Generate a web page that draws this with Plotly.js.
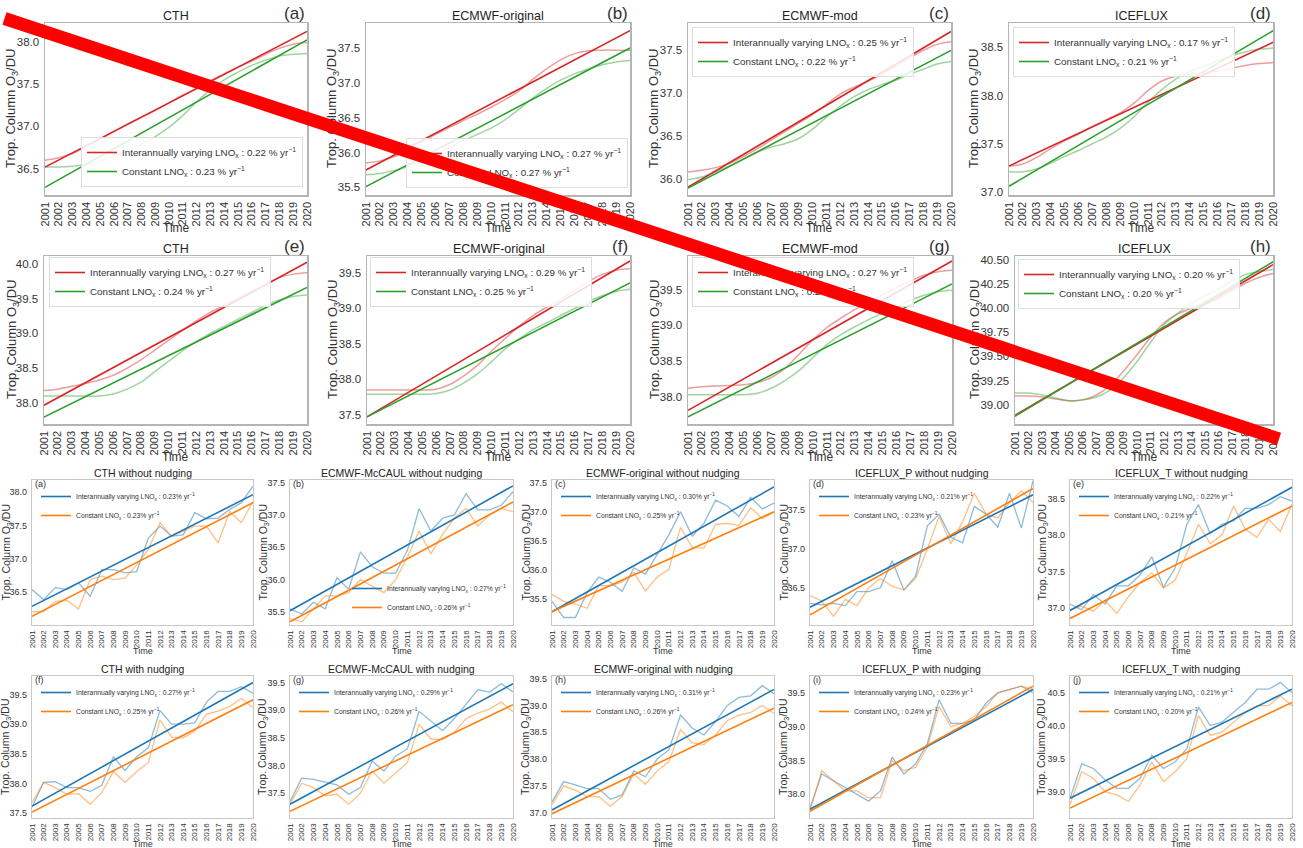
<!DOCTYPE html>
<html>
<head>
<meta charset="utf-8">
<script src="https://cdn.plot.ly/plotly-3.0.1.min.js"></script>
<style>
  html, body { margin: 0; padding: 0; background: #ffffff; }
  #fig { width: 1303px; height: 848px; }
</style>
</head>
<body>
<div id="fig"></div>
<script>
// ---------- shared axes ----------
const years = [2001, 2002, 2003, 2004, 2005, 2006, 2007, 2008, 2009, 2010,
               2011, 2012, 2013, 2014, 2015, 2016, 2017, 2018, 2019, 2020];
const trendYears = [2001, 2020];

// ---------- top block: smoothed series and linear trends ----------
// (a) CTH
const aIvSmooth = [36.60,36.63,36.68,36.76,36.85,36.94,37.03,37.11,37.19,37.28,37.37,37.45,37.54,37.62,37.70,37.77,37.85,37.92,37.97,37.99];
const aIvTrend  = [36.52, 38.12];
const aCnSmooth = [36.52,36.52,36.53,36.55,36.59,36.65,36.72,36.79,36.88,36.99,37.13,37.29,37.43,37.55,37.64,37.72,37.78,37.83,37.85,37.86];
const aCnTrend  = [36.28, 38.02];
// (b) ECMWF-original
const bIvSmooth = [35.85,35.88,35.94,36.04,36.15,36.26,36.36,36.46,36.55,36.65,36.76,36.88,37.05,37.20,37.33,37.42,37.46,37.47,37.47,37.47];
const bIvTrend  = [35.75, 37.75];
const bCnSmooth = [35.68,35.70,35.74,35.80,35.88,35.97,36.07,36.17,36.26,36.35,36.47,36.62,36.78,36.92,37.04,37.13,37.20,37.26,37.30,37.32];
const bCnTrend  = [35.51, 37.50];
// (c) ECMWF-mod
const cIvSmooth = [36.08,36.10,36.13,36.18,36.26,36.35,36.45,36.55,36.65,36.75,36.87,36.99,37.07,37.14,37.22,37.31,37.41,37.50,37.57,37.60];
const cIvTrend  = [35.90, 37.72];
const cCnSmooth = [35.99,36.02,36.08,36.15,36.23,36.31,36.37,36.41,36.47,36.58,36.72,36.85,36.96,37.04,37.10,37.15,37.22,37.28,37.34,37.37];
const cCnTrend  = [35.89, 37.50];
// (d) ICEFLUX
const dIvSmooth = [37.27,37.29,37.36,37.45,37.53,37.60,37.68,37.75,37.82,37.92,38.05,38.15,38.20,38.22,38.23,38.25,38.28,38.31,38.33,38.34];
const dIvTrend  = [37.27, 38.55];
const dCnSmooth = [37.21,37.21,37.24,37.30,37.37,37.43,37.50,37.57,37.66,37.78,37.93,38.06,38.17,38.25,38.30,38.36,38.41,38.45,38.48,38.49];
const dCnTrend  = [37.06, 38.67];
// (e) CTH
const eIvSmooth = [38.18,38.20,38.24,38.28,38.33,38.40,38.50,38.62,38.76,38.90,39.04,39.18,39.30,39.40,39.50,39.60,39.70,39.80,39.85,39.87];
const eIvTrend  = [37.97, 40.02];
const eCnSmooth = [38.10,38.10,38.10,38.10,38.10,38.13,38.20,38.30,38.45,38.60,38.75,38.88,39.00,39.10,39.20,39.30,39.40,39.48,39.53,39.55];
const eCnTrend  = [37.80, 39.66];
// (f) ECMWF-original
const fIvSmooth = [37.85,37.85,37.85,37.85,37.85,37.86,37.93,38.05,38.20,38.40,38.58,38.75,38.90,39.02,39.13,39.25,39.38,39.48,39.54,39.56];
const fIvTrend  = [37.47, 39.67];
const fCnSmooth = [37.79,37.79,37.79,37.79,37.79,37.80,37.85,37.95,38.08,38.25,38.43,38.57,38.70,38.80,38.90,39.00,39.10,39.18,39.24,39.27];
const fCnTrend  = [37.47, 39.36];
// (g) ECMWF-mod
const gIvSmooth = [38.12,38.14,38.15,38.16,38.17,38.20,38.27,38.40,38.60,38.80,38.97,39.10,39.22,39.32,39.43,39.53,39.62,39.70,39.75,39.77];
const gIvTrend  = [37.81, 39.90];
const gCnSmooth = [38.03,38.03,38.03,38.03,38.03,38.05,38.12,38.23,38.37,38.55,38.73,38.87,38.98,39.08,39.17,39.26,39.35,39.42,39.47,39.49];
const gCnTrend  = [37.72, 39.58];
// (h) ICEFLUX
const hIvSmooth = [39.09,39.09,39.08,39.06,39.04,39.05,39.10,39.20,39.35,39.52,39.70,39.85,39.94,40.00,40.05,40.10,40.18,40.26,40.32,40.36];
const hIvTrend  = [38.89, 40.45];
const hCnSmooth = [39.12,39.12,39.10,39.07,39.04,39.05,39.08,39.15,39.28,39.45,39.65,39.83,39.95,40.05,40.13,40.20,40.28,40.35,40.38,40.40];
const hCnTrend  = [38.88, 40.48];

const topTitles  = ['CTH', 'ECMWF-original', 'ECMWF-mod', 'ICEFLUX', 'CTH', 'ECMWF-original', 'ECMWF-mod', 'ICEFLUX'];
const topLetters = ['(a)', '(b)', '(c)', '(d)', '(e)', '(f)', '(g)', '(h)'];
const topIvRate  = ['0.22', '0.27', '0.25', '0.17', '0.27', '0.29', '0.27', '0.20'];
const topCnRate  = ['0.23', '0.27', '0.22', '0.21', '0.24', '0.25', '0.24', '0.20'];

// ---------- bottom block: annual means and linear trends ----------
// without nudging
const nnCthIv = [36.54,36.39,36.57,36.54,36.64,36.44,36.84,36.84,36.79,36.81,37.31,37.49,37.34,37.36,37.69,37.60,37.61,37.74,37.84,38.09];
const nnCthIvTrend = [36.29, 37.96];
const nnCthCn = [36.21,36.21,36.36,36.38,36.25,36.69,36.74,36.69,36.71,36.91,37.14,37.54,37.34,37.41,37.49,37.49,37.24,37.71,37.54,37.86];
const nnCthCnTrend = [36.14, 37.84];

const nnMcIv = [35.55,35.47,35.65,35.55,36.03,35.85,36.43,36.20,36.10,36.10,36.45,37.10,36.75,36.95,37.00,37.33,37.08,37.08,37.15,37.36];
const nnMcIvTrend = [35.52, 37.45];
const nnMcCn = [35.40,35.35,35.55,35.75,35.75,35.80,36.00,35.90,35.80,36.00,36.35,36.75,36.40,36.70,36.95,37.10,36.83,37.00,37.10,37.05];
const nnMcCnTrend = [35.35, 37.20];

const nnOrIv = [35.45,35.17,35.17,35.60,35.87,35.78,35.62,36.03,35.92,36.25,36.60,37.00,36.58,36.80,37.20,37.10,36.92,37.25,37.05,37.15];
const nnOrIvTrend = [35.27, 37.43];
const nnOrCn = [35.57,35.45,35.40,35.33,35.72,35.72,35.78,35.95,35.63,35.87,36.00,36.73,36.38,36.37,36.78,36.80,36.76,37.07,36.88,37.00];
const nnOrCnTrend = [35.27, 37.00];

const nnIpIv = [36.30,36.28,36.30,36.27,36.45,36.45,36.50,36.85,36.47,36.65,37.30,37.45,37.15,37.08,37.55,37.45,37.28,37.72,37.27,37.88];
const nnIpIvTrend = [36.25, 37.70];
const nnIpCn = [36.40,36.33,36.13,36.35,36.27,36.50,36.62,36.52,36.47,36.62,37.00,37.42,37.07,37.35,37.72,37.45,37.40,37.60,37.75,37.60];
const nnIpCnTrend = [36.15, 37.78];

const nnItIv = [37.05,36.97,37.18,37.05,37.30,37.30,37.45,37.70,37.28,37.55,38.15,38.42,38.02,38.15,38.20,38.37,38.37,38.42,38.53,38.47];
const nnItIvTrend = [36.96, 38.66];
const nnItCn = [36.97,37.02,36.95,37.10,36.92,37.15,37.35,37.48,37.27,37.38,37.75,38.15,37.88,38.00,38.40,38.08,37.97,38.22,38.05,38.43];
const nnItCnTrend = [36.85, 38.40];

// with nudging
const wnCthIv = [37.60,38.02,38.03,37.93,37.93,37.87,37.97,38.45,38.22,38.45,38.60,39.23,39.00,39.00,39.02,39.37,39.55,39.55,39.63,39.52];
const wnCthIvTrend = [37.62, 39.70];
const wnCthCn = [37.68,38.02,37.93,37.82,37.83,37.65,37.85,38.20,38.02,38.20,38.35,39.07,38.78,38.77,38.88,39.17,39.22,39.30,39.43,39.28];
const wnCthCnTrend = [37.52, 39.41];

const wnMcIv = [37.35,37.77,37.75,37.70,37.65,37.48,37.60,38.08,37.90,38.17,38.30,38.98,38.80,38.63,38.85,39.12,39.37,39.33,39.48,39.33];
const wnMcIvTrend = [37.30, 39.48];
const wnMcCn = [37.30,37.68,37.60,37.45,37.48,37.30,37.50,37.90,37.68,37.87,38.05,38.75,38.48,38.47,38.60,38.85,38.95,39.02,39.15,38.97];
const wnMcCnTrend = [37.17, 39.10];

const wnOrIv = [37.20,37.58,37.52,37.45,37.45,37.25,37.33,37.78,37.67,38.00,38.17,38.82,38.58,38.45,38.70,39.00,39.15,39.18,39.37,39.22];
const wnOrIvTrend = [37.05, 39.30];
const wnOrCn = [37.15,37.50,37.42,37.30,37.30,37.12,37.30,37.72,37.53,37.78,37.95,38.55,38.30,38.27,38.45,38.72,38.82,38.87,39.00,38.85];
const wnOrCnTrend = [36.98, 38.95];

const wnIpIv = [37.80,38.30,38.20,38.10,38.00,37.90,38.05,38.55,38.30,38.45,38.75,39.40,39.05,39.05,39.10,39.35,39.50,39.55,39.60,39.50];
const wnIpIvTrend = [37.78, 39.55];
const wnIpCn = [37.75,38.35,38.20,38.05,38.05,37.95,37.95,38.50,38.35,38.40,38.70,39.30,39.00,39.05,39.15,39.30,39.50,39.55,39.60,39.55];
const wnIpCnTrend = [37.75, 39.60];

const wnItIv = [38.90,39.42,39.35,39.18,39.05,39.05,39.20,39.55,39.35,39.45,39.65,40.28,40.00,40.05,40.20,40.35,40.55,40.55,40.65,40.50];
const wnItIvTrend = [38.90, 40.55];
const wnItCn = [38.80,39.30,39.20,39.00,38.95,38.85,39.10,39.45,39.15,39.30,39.50,40.15,39.85,39.90,40.05,40.20,40.30,40.30,40.45,40.30];
const wnItCnTrend = [38.75, 40.35];

const botTitles = ['CTH without nudging', 'ECMWF-McCAUL without nudging', 'ECMWF-original without nudging',
                   'ICEFLUX_P without nudging', 'ICEFLUX_T without nudging',
                   'CTH with nudging', 'ECMWF-McCAUL with nudging', 'ECMWF-original with nudging',
                   'ICEFLUX_P with nudging', 'ICEFLUX_T with nudging'];
const botLetters = ['(a)', '(b)', '(c)', '(d)', '(e)', '(f)', '(g)', '(h)', '(i)', '(j)'];
const botIvRate  = ['0.23', '0.27', '0.30', '0.21', '0.22', '0.27', '0.29', '0.31', '0.23', '0.21'];
const botCnRate  = ['0.23', '0.26', '0.25', '0.23', '0.21', '0.25', '0.26', '0.26', '0.24', '0.20'];

// ---------- figure geometry (pixels in a 1303 x 848 canvas) ----------
const W = 1303, H = 848;
const FONT = 'Liberation Sans, Arial, sans-serif';

// [left, top, right, bottom], y-range, tick step, tick format
const topGeom = [
  { box: [45, 23, 307, 195],  yr: [36.19, 38.22], dt: 0.5,  fmt: '.1f' },
  { box: [366, 23, 630, 195], yr: [35.39, 37.86], dt: 0.5,  fmt: '.1f' },
  { box: [688, 23, 951, 195], yr: [35.81, 37.82], dt: 0.5,  fmt: '.1f' },
  { box: [1009, 23, 1273, 195], yr: [36.97, 38.75], dt: 0.5, fmt: '.1f' },
  { box: [44, 256, 307, 424],  yr: [37.70, 40.11], dt: 0.5, fmt: '.1f' },
  { box: [367, 256, 630, 424], yr: [37.37, 39.74], dt: 0.5, fmt: '.1f' },
  { box: [688, 256, 952, 424], yr: [37.62, 39.97], dt: 0.5, fmt: '.1f' },
  { box: [1015, 256, 1273, 424], yr: [38.80, 40.54], dt: 0.25, fmt: '.2f' }
];
// legend anchor for each top panel
const topLeg = [
  { x: 303, y: 187, xa: 'right', ya: 'bottom' },
  { x: 628, y: 188, xa: 'right', ya: 'bottom' },
  { x: 692, y: 27,  xa: 'left',  ya: 'top' },
  { x: 1013, y: 27, xa: 'left',  ya: 'top' },
  { x: 49,  y: 257, xa: 'left',  ya: 'top' },
  { x: 370, y: 257, xa: 'left',  ya: 'top' },
  { x: 692, y: 257, xa: 'left',  ya: 'top' },
  { x: 1018, y: 259, xa: 'left', ya: 'top' }
];
const topYTitleX = [12, 333, 655, 975, 12, 333, 655, 975];

const botCols = [[32, 253], [290, 513], [552, 774], [810, 1033], [1070, 1292]];
const botRows = [[480, 625], [676, 818]];
const botRanges = [[36.01, 38.18], [35.30, 37.54], [35.04, 37.55], [36.02, 37.89], [36.76, 38.76],
                   [37.42, 39.81], [37.05, 39.62], [36.90, 39.55], [37.65, 39.75], [38.60, 40.75]];
const botYTitleX = [6, 263, 526, 784, 1042];

// ---------- assemble ----------
const topSeries = [
  [aIvSmooth, aIvTrend, aCnSmooth, aCnTrend],
  [bIvSmooth, bIvTrend, bCnSmooth, bCnTrend],
  [cIvSmooth, cIvTrend, cCnSmooth, cCnTrend],
  [dIvSmooth, dIvTrend, dCnSmooth, dCnTrend],
  [eIvSmooth, eIvTrend, eCnSmooth, eCnTrend],
  [fIvSmooth, fIvTrend, fCnSmooth, fCnTrend],
  [gIvSmooth, gIvTrend, gCnSmooth, gCnTrend],
  [hIvSmooth, hIvTrend, hCnSmooth, hCnTrend]
];
const botSeries = [
  [nnCthIv, nnCthIvTrend, nnCthCn, nnCthCnTrend],
  [nnMcIv, nnMcIvTrend, nnMcCn, nnMcCnTrend],
  [nnOrIv, nnOrIvTrend, nnOrCn, nnOrCnTrend],
  [nnIpIv, nnIpIvTrend, nnIpCn, nnIpCnTrend],
  [nnItIv, nnItIvTrend, nnItCn, nnItCnTrend],
  [wnCthIv, wnCthIvTrend, wnCthCn, wnCthCnTrend],
  [wnMcIv, wnMcIvTrend, wnMcCn, wnMcCnTrend],
  [wnOrIv, wnOrIvTrend, wnOrCn, wnOrCnTrend],
  [wnIpIv, wnIpIvTrend, wnIpCn, wnIpCnTrend],
  [wnItIv, wnItIvTrend, wnItCn, wnItCnTrend]
];

const RED = '#d62728', GREEN = '#2ca02c', BLUE = '#1f77b4', ORANGE = '#ff7f0e';
const traces = [];
const layout = {
  width: W, height: H,
  margin: { l: 0, r: 0, t: 0, b: 0 },
  paper_bgcolor: '#ffffff', plot_bgcolor: '#ffffff',
  font: { family: FONT, color: '#333333' },
  annotations: [], shapes: []
};
const px = x => x / W;
const py = y => 1 - y / H;
const yearText = years.map(String);

function addAxes(n, box, yr, dt, fmt, big) {
  const sfx = n === 1 ? '' : String(n);
  const lineCol = big ? '#b4b4b4' : '#c8c8c8';
  layout['xaxis' + sfx] = {
    domain: [px(box[0]), px(box[2])], anchor: 'y' + sfx,
    range: [2001, 2020], tickmode: 'array', tickvals: years, ticktext: yearText,
    tickangle: -90, ticks: '', showgrid: false, zeroline: false,
    showline: true, mirror: true, linecolor: lineCol, linewidth: big ? 1.5 : 1.2,
    tickfont: { family: FONT, size: big ? 11 : 8, color: '#333333' }, ticklabelstandoff: 1
  };
  layout['yaxis' + sfx] = {
    domain: [py(box[3]), py(box[1])], anchor: 'x' + sfx,
    range: yr, tick0: 0, dtick: dt, tickformat: fmt, ticks: '',
    showgrid: false, zeroline: false,
    showline: true, mirror: true, linecolor: lineCol, linewidth: big ? 1.5 : 1.2,
    tickfont: { family: FONT, size: big ? 11.5 : 9, color: '#333333' }, ticklabelstandoff: 2
  };
}

function legendName(n) { return n === 1 ? 'legend' : 'legend' + n; }

// top 8 panels
topSeries.forEach((s, i) => {
  const n = i + 1, sfx = n === 1 ? '' : String(n);
  const g = topGeom[i];
  addAxes(n, g.box, g.yr, g.dt, g.fmt, true);
  const xa = 'x' + sfx, ya = 'y' + sfx, lg = legendName(n);
  traces.push({ x: years, y: s[0], xaxis: xa, yaxis: ya, mode: 'lines', showlegend: false,
    line: { color: RED, width: 1.5, shape: 'spline', smoothing: 1 }, opacity: 0.45, hoverinfo: 'skip' });
  traces.push({ x: years, y: s[2], xaxis: xa, yaxis: ya, mode: 'lines', showlegend: false,
    line: { color: GREEN, width: 1.5, shape: 'spline', smoothing: 1 }, opacity: 0.45, hoverinfo: 'skip' });
  traces.push({ x: trendYears, y: s[1], xaxis: xa, yaxis: ya, mode: 'lines', legend: lg,
    name: 'Interannually varying LNO<sub>x</sub> : ' + topIvRate[i] + ' % yr<sup>\u22121</sup>',
    line: { color: RED, width: 1.6 } });
  traces.push({ x: trendYears, y: s[3], xaxis: xa, yaxis: ya, mode: 'lines', legend: lg,
    name: 'Constant LNO<sub>x</sub> : ' + topCnRate[i] + ' % yr<sup>\u22121</sup>',
    line: { color: GREEN, width: 1.6 } });
  const L = topLeg[i];
  layout[lg] = {
    x: px(L.x), y: py(L.y), xanchor: L.xa, yanchor: L.ya,
    bgcolor: 'rgba(255,255,255,0.85)', bordercolor: '#dddddd', borderwidth: 1,
    font: { family: FONT, size: 9.8, color: '#333333' }, tracegroupgap: 0
  };
  const b = g.box;
  layout.annotations.push(
    { xref: 'paper', yref: 'paper', x: px((b[0] + b[2]) / 2), y: py(b[1] - 7), text: topTitles[i],
      showarrow: false, font: { family: FONT, size: 12.5, color: '#222222' }, xanchor: 'center', yanchor: 'middle' },
    { xref: 'paper', yref: 'paper', x: px(b[2]), y: py(b[1] - 9), text: topLetters[i],
      showarrow: false, font: { family: FONT, size: 17, color: '#333333' }, xanchor: 'right', yanchor: 'middle' },
    { xref: 'paper', yref: 'paper', x: px((b[0] + b[2]) / 2), y: py(b[3] + 33), text: 'Time',
      showarrow: false, font: { family: FONT, size: 12, color: '#333333' }, xanchor: 'center', yanchor: 'middle' },
    { xref: 'paper', yref: 'paper', x: px(topYTitleX[i]), y: py((b[1] + b[3]) / 2), text: 'Trop. Column O<sub>3</sub>/DU',
      textangle: -90, showarrow: false, font: { family: FONT, size: 13, color: '#333333' }, xanchor: 'center', yanchor: 'middle' }
  );
});

// bottom 10 panels
botSeries.forEach((s, i) => {
  const n = i + 9, sfx = String(n);
  const col = botCols[i % 5], row = botRows[Math.floor(i / 5)];
  const box = [col[0], row[0], col[1], row[1]];
  addAxes(n, box, botRanges[i], 0.5, '.1f', false);
  const xa = 'x' + sfx, ya = 'y' + sfx, lg = legendName(n);
  traces.push({ x: years, y: s[0], xaxis: xa, yaxis: ya, mode: 'lines', showlegend: false,
    line: { color: BLUE, width: 1.3 }, opacity: 0.5, hoverinfo: 'skip' });
  traces.push({ x: years, y: s[2], xaxis: xa, yaxis: ya, mode: 'lines', showlegend: false,
    line: { color: ORANGE, width: 1.3 }, opacity: 0.5, hoverinfo: 'skip' });
  traces.push({ x: trendYears, y: s[1], xaxis: xa, yaxis: ya, mode: 'lines', legend: lg,
    name: 'Interannually varying LNO<sub>x</sub> : ' + botIvRate[i] + '% yr<sup>\u22121</sup>',
    line: { color: BLUE, width: 1.6 } });
  traces.push({ x: trendYears, y: s[3], xaxis: xa, yaxis: ya, mode: 'lines', legend: lg,
    name: 'Constant LNO<sub>x</sub> : ' + botCnRate[i] + '% yr<sup>\u22121</sup>',
    line: { color: ORANGE, width: 1.6 } });
  const isB = i === 1;
  layout[lg] = {
    x: px(isB ? 512 : col[0] + 4), y: py(isB ? 622 : row[0] + 2),
    xanchor: isB ? 'right' : 'left', yanchor: isB ? 'bottom' : 'top',
    bgcolor: 'rgba(255,255,255,0)', borderwidth: 0,
    font: { family: FONT, size: 6.8, color: '#333333' }, tracegroupgap: 0
  };
  layout.annotations.push(
    { xref: 'paper', yref: 'paper', x: px((box[0] + box[2]) / 2), y: py(box[1] - 7), text: botTitles[i],
      showarrow: false, font: { family: FONT, size: 10.5, color: '#222222' }, xanchor: 'center', yanchor: 'middle' },
    { xref: 'paper', yref: 'paper', x: px(box[0] + 1), y: py(box[1] + 4), text: botLetters[i],
      showarrow: false, font: { family: FONT, size: 9, color: '#333333' }, xanchor: 'left', yanchor: 'middle' },
    { xref: 'paper', yref: 'paper', x: px((box[0] + box[2]) / 2), y: py(box[3] + 26), text: 'Time',
      showarrow: false, font: { family: FONT, size: 9, color: '#333333' }, xanchor: 'center', yanchor: 'middle' },
    { xref: 'paper', yref: 'paper', x: px(botYTitleX[i % 5]), y: py((box[1] + box[3]) / 2), text: 'Trop. Column O<sub>3</sub>/DU',
      textangle: -90, showarrow: false, font: { family: FONT, size: 10.5, color: '#333333' }, xanchor: 'center', yanchor: 'middle' }
  );
});

// red strike across the upper block, drawn on top of everything
layout.annotations.push({
  xref: 'paper', yref: 'paper', x: px(1279), y: py(439), ax: 3 - 1279, ay: 18 - 439,
  text: '', showarrow: true, arrowhead: 0, arrowwidth: 13, arrowcolor: '#ff0000',
  standoff: 0, startstandoff: 0
});

Plotly.newPlot('fig', traces, layout, { displayModeBar: false, staticPlot: true });
</script>
</body>
</html>
